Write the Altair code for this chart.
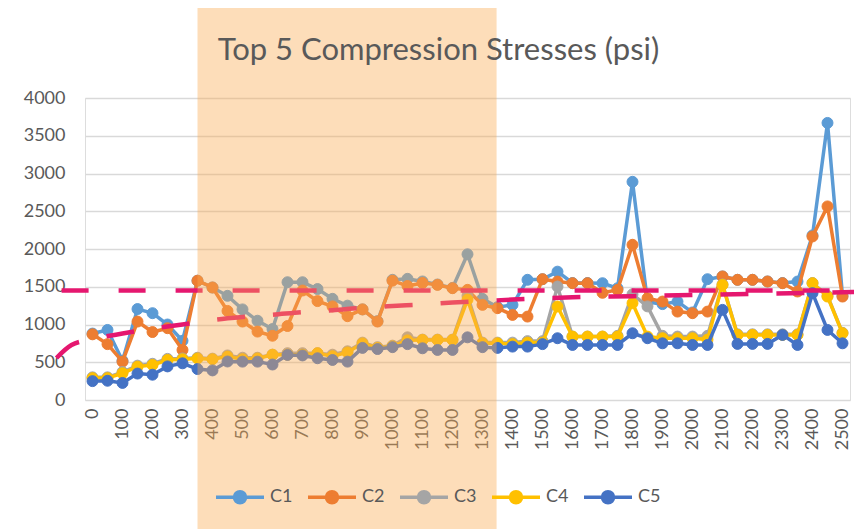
import altair as alt
import pandas as pd

# ---------------- data ----------------
x_vals = list(range(0, 2550, 50))  # 0 .. 2500 step 50 (51 categories)

series_names = ["C1", "C2", "C3", "C4", "C5"]
series_colors = ["#5B9BD5", "#ED7D31", "#A5A5A5", "#FFC000", "#4472C4"]

c1 = [880, 928, 520, 1205, 1150, 1000, 785, 1580, 1490, 1380,
      1200, 1050, 940, 1560, 1560, 1470, 1340, 1250, 1200, 1045,
      1592, 1605, 1570, 1530, 1485, 1930, 1340, 1230, 1260, 1592,
      1600, 1700, 1550, 1550, 1547, 1480, 2890, 1300, 1270, 1304,
      1160, 1600, 1636, 1592, 1592, 1570, 1550, 1569, 2180, 3670,
      1380]
c2 = [870, 740, 508, 1039, 900, 951, 663, 1580, 1490, 1180,
      1039, 906, 851, 980, 1450, 1310, 1240, 1110, 1200, 1039,
      1580, 1510, 1550, 1525, 1481, 1459, 1260, 1216, 1127, 1105,
      1600, 1569, 1547, 1547, 1420, 1459, 2056, 1348, 1304, 1171,
      1150, 1171, 1636, 1592, 1592, 1569, 1547, 1437, 2166, 2564,
      1370]
c3 = [300, 300, 370, 455, 480, 545, 550, 560, 548, 590,
      560, 560, 600, 620, 620, 620, 600, 645, 760, 700,
      720, 830, 800, 800, 800, 1380, 760, 760, 760, 780,
      780, 1503, 840, 840, 840, 850, 1400, 1240, 850, 840,
      840, 850, 1530, 870, 870, 870, 870, 870, 1550, 1380,
      890]
c4 = [290, 290, 354, 442, 464, 530, 540, 550, 540, 575,
      540, 550, 600, 600, 600, 620, 580, 630, 750, 690,
      710, 790, 796, 796, 796, 1330, 751, 751, 740, 760,
      760, 1238, 840, 840, 840, 840, 1282, 840, 818, 818,
      818, 800, 1525, 862, 862, 862, 862, 862, 1547, 1370,
      884]
c5 = [250, 255, 226, 350, 335, 445, 486, 410, 392, 510,
      508, 508, 470, 597, 590, 553, 530, 508, 690, 675,
      700, 740, 685, 663, 663, 830, 700, 690, 707, 707,
      740, 818, 729, 729, 729, 729, 884, 818, 751, 751,
      729, 729, 1194, 743, 743, 743, 862, 729, 1415, 928,
      751]

# dashed reference line (constant level) and dashed trend curve
ref_x = [-103, 2550]
ref_y = [1450, 1450]
trend_x = [-120, -70, 0, 100, 200, 300, 400, 500, 600, 700, 800, 900, 1000,
           1100, 1200, 1300, 1400, 1600, 1800, 2000, 2200, 2400, 2550]
trend_y = [557, 729, 805, 880, 945, 1000, 1060, 1100, 1130, 1165, 1190, 1222, 1245,
           1265, 1290, 1310, 1330, 1360, 1375, 1390, 1405, 1420, 1430]

# highlighted band
band_start = [350]
band_end = [1347]

x_ticks = list(range(0, 2600, 100))
y_ticks = list(range(0, 4500, 500))

# ---------------- tables ----------------
rows = []
for name, vals in zip(series_names, [c1, c2, c3, c4, c5]):
    for xv, v in zip(x_vals, vals):
        rows.append({"x": xv, "series": name, "value": v})
df = pd.DataFrame(rows)
ref_df = pd.DataFrame({"x": ref_x, "value": ref_y})
trend_df = pd.DataFrame({"x": trend_x, "value": trend_y})
band_df = pd.DataFrame({"x0": band_start, "x1": band_end})

FONT = "Lato"
TXT = "#595959"

xscale = alt.Scale(domain=[-25, 2525], nice=False, zero=False)
yscale = alt.Scale(domain=[0, 4000], nice=False)
cscale = alt.Scale(domain=series_names, range=series_colors)

x_axis = alt.Axis(values=x_ticks, format="d", labelAngle=270, grid=False, domain=False,
                  ticks=False, title=None, labelFontSize=18, labelColor=TXT,
                  labelFont=FONT, labelPadding=8, labelOverlap=False)
y_axis = alt.Axis(values=y_ticks, format="d", grid=True, gridColor="#D9D9D9",
                  gridWidth=1.5, domain=False, ticks=False, title=None,
                  labelFontSize=18, labelColor=TXT, labelFont=FONT, labelPadding=20,
                  labelOverlap=False)

X = lambda f: alt.X(f, scale=xscale, axis=x_axis)
Y = lambda f: alt.Y(f, scale=yscale, axis=y_axis)

LEG_PATH = "M-1,0H1M0.23,0A0.23,0.23,0,1,1,-0.23,0A0.23,0.23,0,1,1,0.23,0Z"

legend = alt.Legend(orient="none", direction="horizontal", columns=5,
                    legendX=129, legendY=373, title=None,
                    symbolType=LEG_PATH, symbolSize=2304, symbolStrokeWidth=3.5,
                    labelFontSize=18, labelColor=TXT, labelFont=FONT,
                    labelOffset=4, columnPadding=8, padding=0)

layers = []
for name, col in zip(series_names, series_colors):
    sub = alt.Chart(df).transform_filter(alt.datum.series == name)
    ln = sub.mark_line(strokeWidth=3.5, stroke=col).encode(
        x=X("x:Q"), y=Y("value:Q"))
    pt = sub.mark_point(filled=True, size=120, opacity=1, strokeWidth=1).encode(
        x=X("x:Q"), y=Y("value:Q"),
        fill=alt.Fill("series:N", scale=cscale, legend=legend),
        stroke=alt.Stroke("series:N", scale=cscale, legend=legend),
    )
    layers += [ln, pt]

ref_line = alt.Chart(ref_df).mark_line(color="#E5176F", strokeWidth=4.5,
                                       strokeDash=[27, 30]).encode(
    x=X("x:Q"), y=Y("value:Q"))
trend_line = alt.Chart(trend_df).mark_line(color="#E5176F", strokeWidth=4.5,
                                           strokeDash=[28, 28],
                                           interpolate="monotone").encode(
    x=X("x:Q"), y=Y("value:Q"))

# translucent highlight spanning the whole picture height (over everything drawn before it)
band = alt.Chart(band_df).mark_rect(fill="#F9A94F", opacity=0.4).encode(
    x=X("x0:Q"), x2="x1:Q",
    y=alt.value(-90), y2=alt.value(431))

chart = alt.layer(*layers, ref_line, trend_line, band).properties(
    width=765, height=302,
    autosize=alt.AutoSizeParams(type="none"),
    padding={"left": 77, "top": 90, "right": 4, "bottom": 129},
    title=alt.TitleParams("Top 5 Compression Stresses (psi)", fontSize=31, font=FONT,
                          color=TXT, fontWeight="normal", anchor="middle",
                          frame="group", baseline="alphabetic", offset=0,
                          dx=-29, dy=83),
).configure_view(stroke=None).configure(background="white")

chart.save("out.html", embed_options={"renderer": "svg", "actions": False})
